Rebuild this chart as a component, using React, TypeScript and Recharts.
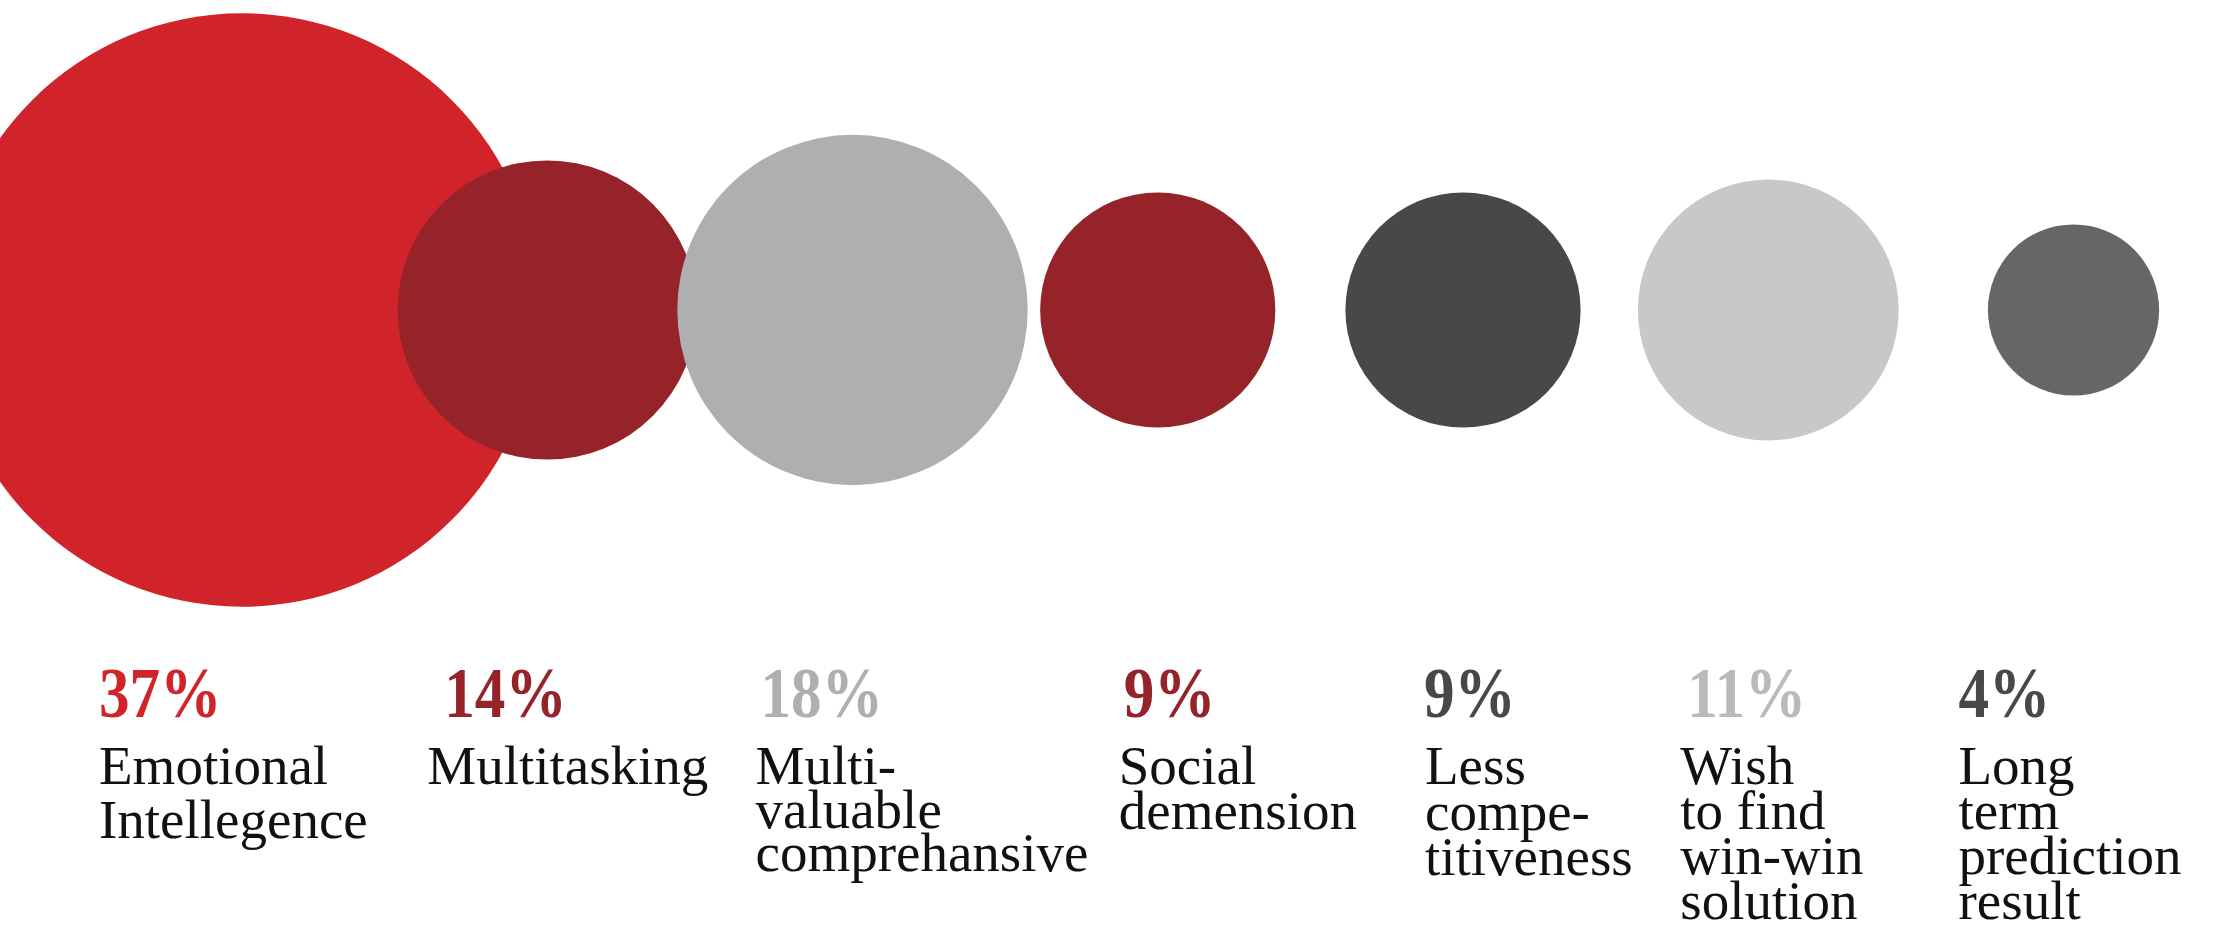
import { ScatterChart, Scatter, XAxis, YAxis, ZAxis, Cell } from 'recharts';

const CATEGORIES = [
  'Emotional Intellegence',
  'Multitasking',
  'Multi-valuable comprehansive',
  'Social demension',
  'Less competitiveness',
  'Wish to find win-win solution',
  'Long term prediction result',
];
const LABEL_LINES = [
  ['Emotional', 'Intellegence'],
  ['Multitasking'],
  ['Multi-', 'valuable', 'comprehansive'],
  ['Social', 'demension'],
  ['Less', 'compe-', 'titiveness'],
  ['Wish', 'to find', 'win-win', 'solution'],
  ['Long', 'term', 'prediction', 'result'],
];
const SHARES = [37, 14, 18, 9, 9, 11, 4];

const BUBBLE_COLORS = ['#d1232a', '#952329', '#aeafb1', '#952329', '#48484a', '#c7c8ca', '#656668'];
const SHARE_COLORS = ['#d1232a', '#952329', '#aeafb1', '#952329', '#48484a', '#b9babc', '#48484a'];

// label layout (offsets from the tick position)
const PCT_DX = [-143, -103, -92, -34, -39, -81, -115];
const TXT_DX = [-143, -120, -97, -39, -38, -88, -115];
const LINE_GAP = [54, 45, 43.5, 45, 45.5, 45, 45];

const FONT = '"Liberation Serif", "DejaVu Serif", serif';

const data = CATEGORIES.map((name, i) => ({ idx: i, row: 1, share: SHARES[i], name }));

function Bubble(props: any) {
  const { cx, cy, size, payload } = props;
  const fill = props.fill || BUBBLE_COLORS[payload.idx];
  return <circle cx={cx} cy={cy} r={size} fill={fill} />;
}

function LabelTick(props: any) {
  const { x, y, payload } = props;
  const i = payload.value;
  const tx = x + TXT_DX[i];
  return (
    <g>
      <text
        transform={`translate(${x + PCT_DX[i]},${y + 97}) scale(0.85,1)`}
        fontFamily={FONT}
        fontWeight="bold"
        fontSize={72}
        fill={SHARE_COLORS[i]}
      >
        {SHARES[i]}%
      </text>
      <text x={tx} y={y + 164} fontFamily={FONT} fontSize={55} fill="#111111">
        {LABEL_LINES[i].map((line, k) => (
          <tspan key={k} x={tx} dy={k === 0 ? 0 : LINE_GAP[i]}>
            {line}
          </tspan>
        ))}
      </text>
    </g>
  );
}

export default function App() {
  return (
    <div style={{ position: 'absolute', left: 0, top: 0, background: '#ffffff' }}>
      <ScatterChart width={2216} height={927} margin={{ top: 0, right: 0, bottom: 0, left: 0 }}>
        <XAxis
          type="number"
          dataKey="idx"
          domain={[-0.7928, 6.4668]}
          allowDataOverflow
          ticks={[0, 1, 2, 3, 4, 5, 6]}
          interval={0}
          tick={<LabelTick />}
          axisLine={false}
          tickLine={false}
          tickSize={0}
          tickMargin={0}
          height={307}
        />
        <YAxis type="number" dataKey="row" domain={[0, 2]} hide />
        <ZAxis type="number" dataKey="share" domain={[0, 37]} range={[60, 296.8]} />
        <Scatter data={data} shape={<Bubble />} isAnimationActive={false}>
          {data.map((d, i) => (
            <Cell key={`cell-${i}`} fill={BUBBLE_COLORS[i]} />
          ))}
        </Scatter>
      </ScatterChart>
    </div>
  );
}
